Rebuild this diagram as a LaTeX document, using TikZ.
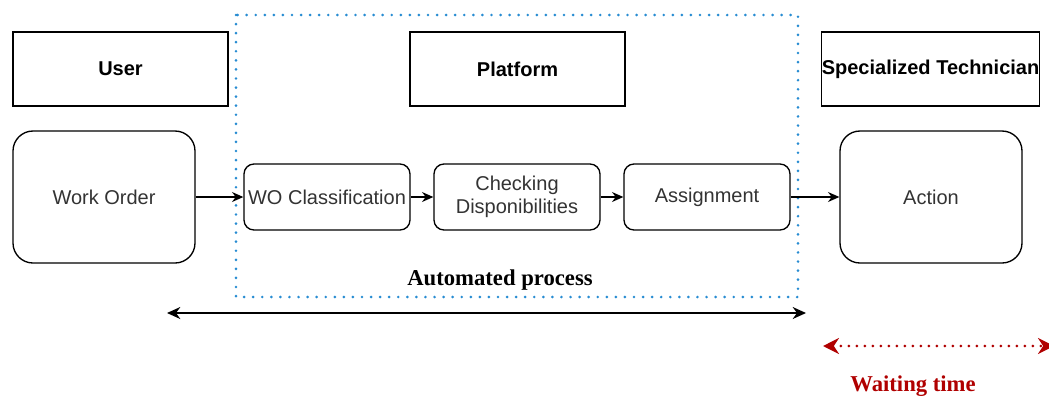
\documentclass[tikz,border=0pt]{standalone}
\usepackage{fontspec}
\setmainfont{Liberation Sans}
\newfontfamily\serifbold{Liberation Serif}
\usetikzlibrary{arrows.meta}
\definecolor{procblue}{RGB}{40,140,210}
\definecolor{waitred}{RGB}{176,0,0}
\definecolor{txtgray}{RGB}{51,51,51}
\tikzset{
  header/.style={draw, line width=1pt, minimum width=161.25pt, minimum height=55.5pt,
    font=\fontsize{15}{17.25}\selectfont\bfseries},
  bigstep/.style={draw, line width=1pt, rounded corners=15pt, minimum width=136.5pt,
    minimum height=99pt, text=txtgray, font=\fontsize{15}{17.25}\selectfont},
  smallstep/.style={draw, line width=1pt, rounded corners=7.5pt, minimum width=124.5pt,
    minimum height=49.5pt, inner sep=1pt, align=center, text=txtgray,
    font=\fontsize{15}{17.25}\selectfont},
  flow/.style={-{Stealth[length=8.5pt,width=7.5pt]}, line width=0.9pt},
}
\begin{document}
\begin{tikzpicture}[x=0.75pt, y=-0.75pt]
\useasboundingbox (0,0) rectangle (1049,401);
% automated part
\draw[procblue, line width=2.2pt, line cap=round, dash pattern=on 0pt off 6.8pt] (236,15) rectangle (798,297);
\node[font=\serifbold\fontsize{17}{19}\selectfont\bfseries] (auto) at (500,280) {Automated process};
% lanes
\node[header] (user) at (120.5,69) {User};
\node[header] (platform) at (517.5,69) {Platform};
\node[header, inner sep=0pt] (tech) at (930.5,69) {Specialized Technician};
% steps
\node[bigstep] (wo) at (104,197) {Work Order};
\node[smallstep] (classif) at (327,197) {WO Classification};
\node[smallstep] (check) at (517,197) {Checking\\Disponibilities};
\node[smallstep] (assign) at (707,197) {Assignment};
\node[bigstep] (action) at (931,197) {Action};
\draw[flow] (wo) -- (classif);
\draw[flow] (classif) -- (check);
\draw[flow] (check) -- (assign);
\draw[flow] (assign) -- (action);
% time spans
\coordinate (spanL) at (167,313);
\coordinate (spanR) at (806,313);
\draw[{Stealth[length=10pt,width=9pt]}-{Stealth[length=10pt,width=9pt]}, line width=1pt] (spanL) -- (spanR);
\coordinate (waitL) at (823,346);
\coordinate (waitR) at (1054,346);
\draw[waitred, line width=2.2pt, line cap=round, dash pattern=on 0pt off 6pt,
  {Stealth[length=12pt,width=12pt,line cap=butt]}-{Stealth[length=12pt,width=12pt]}] (waitL) -- (waitR);
\node[waitred, font=\serifbold\fontsize{17}{19}\selectfont\bfseries] (wait) at (913,386) {Waiting time};
\end{tikzpicture}
\end{document}
